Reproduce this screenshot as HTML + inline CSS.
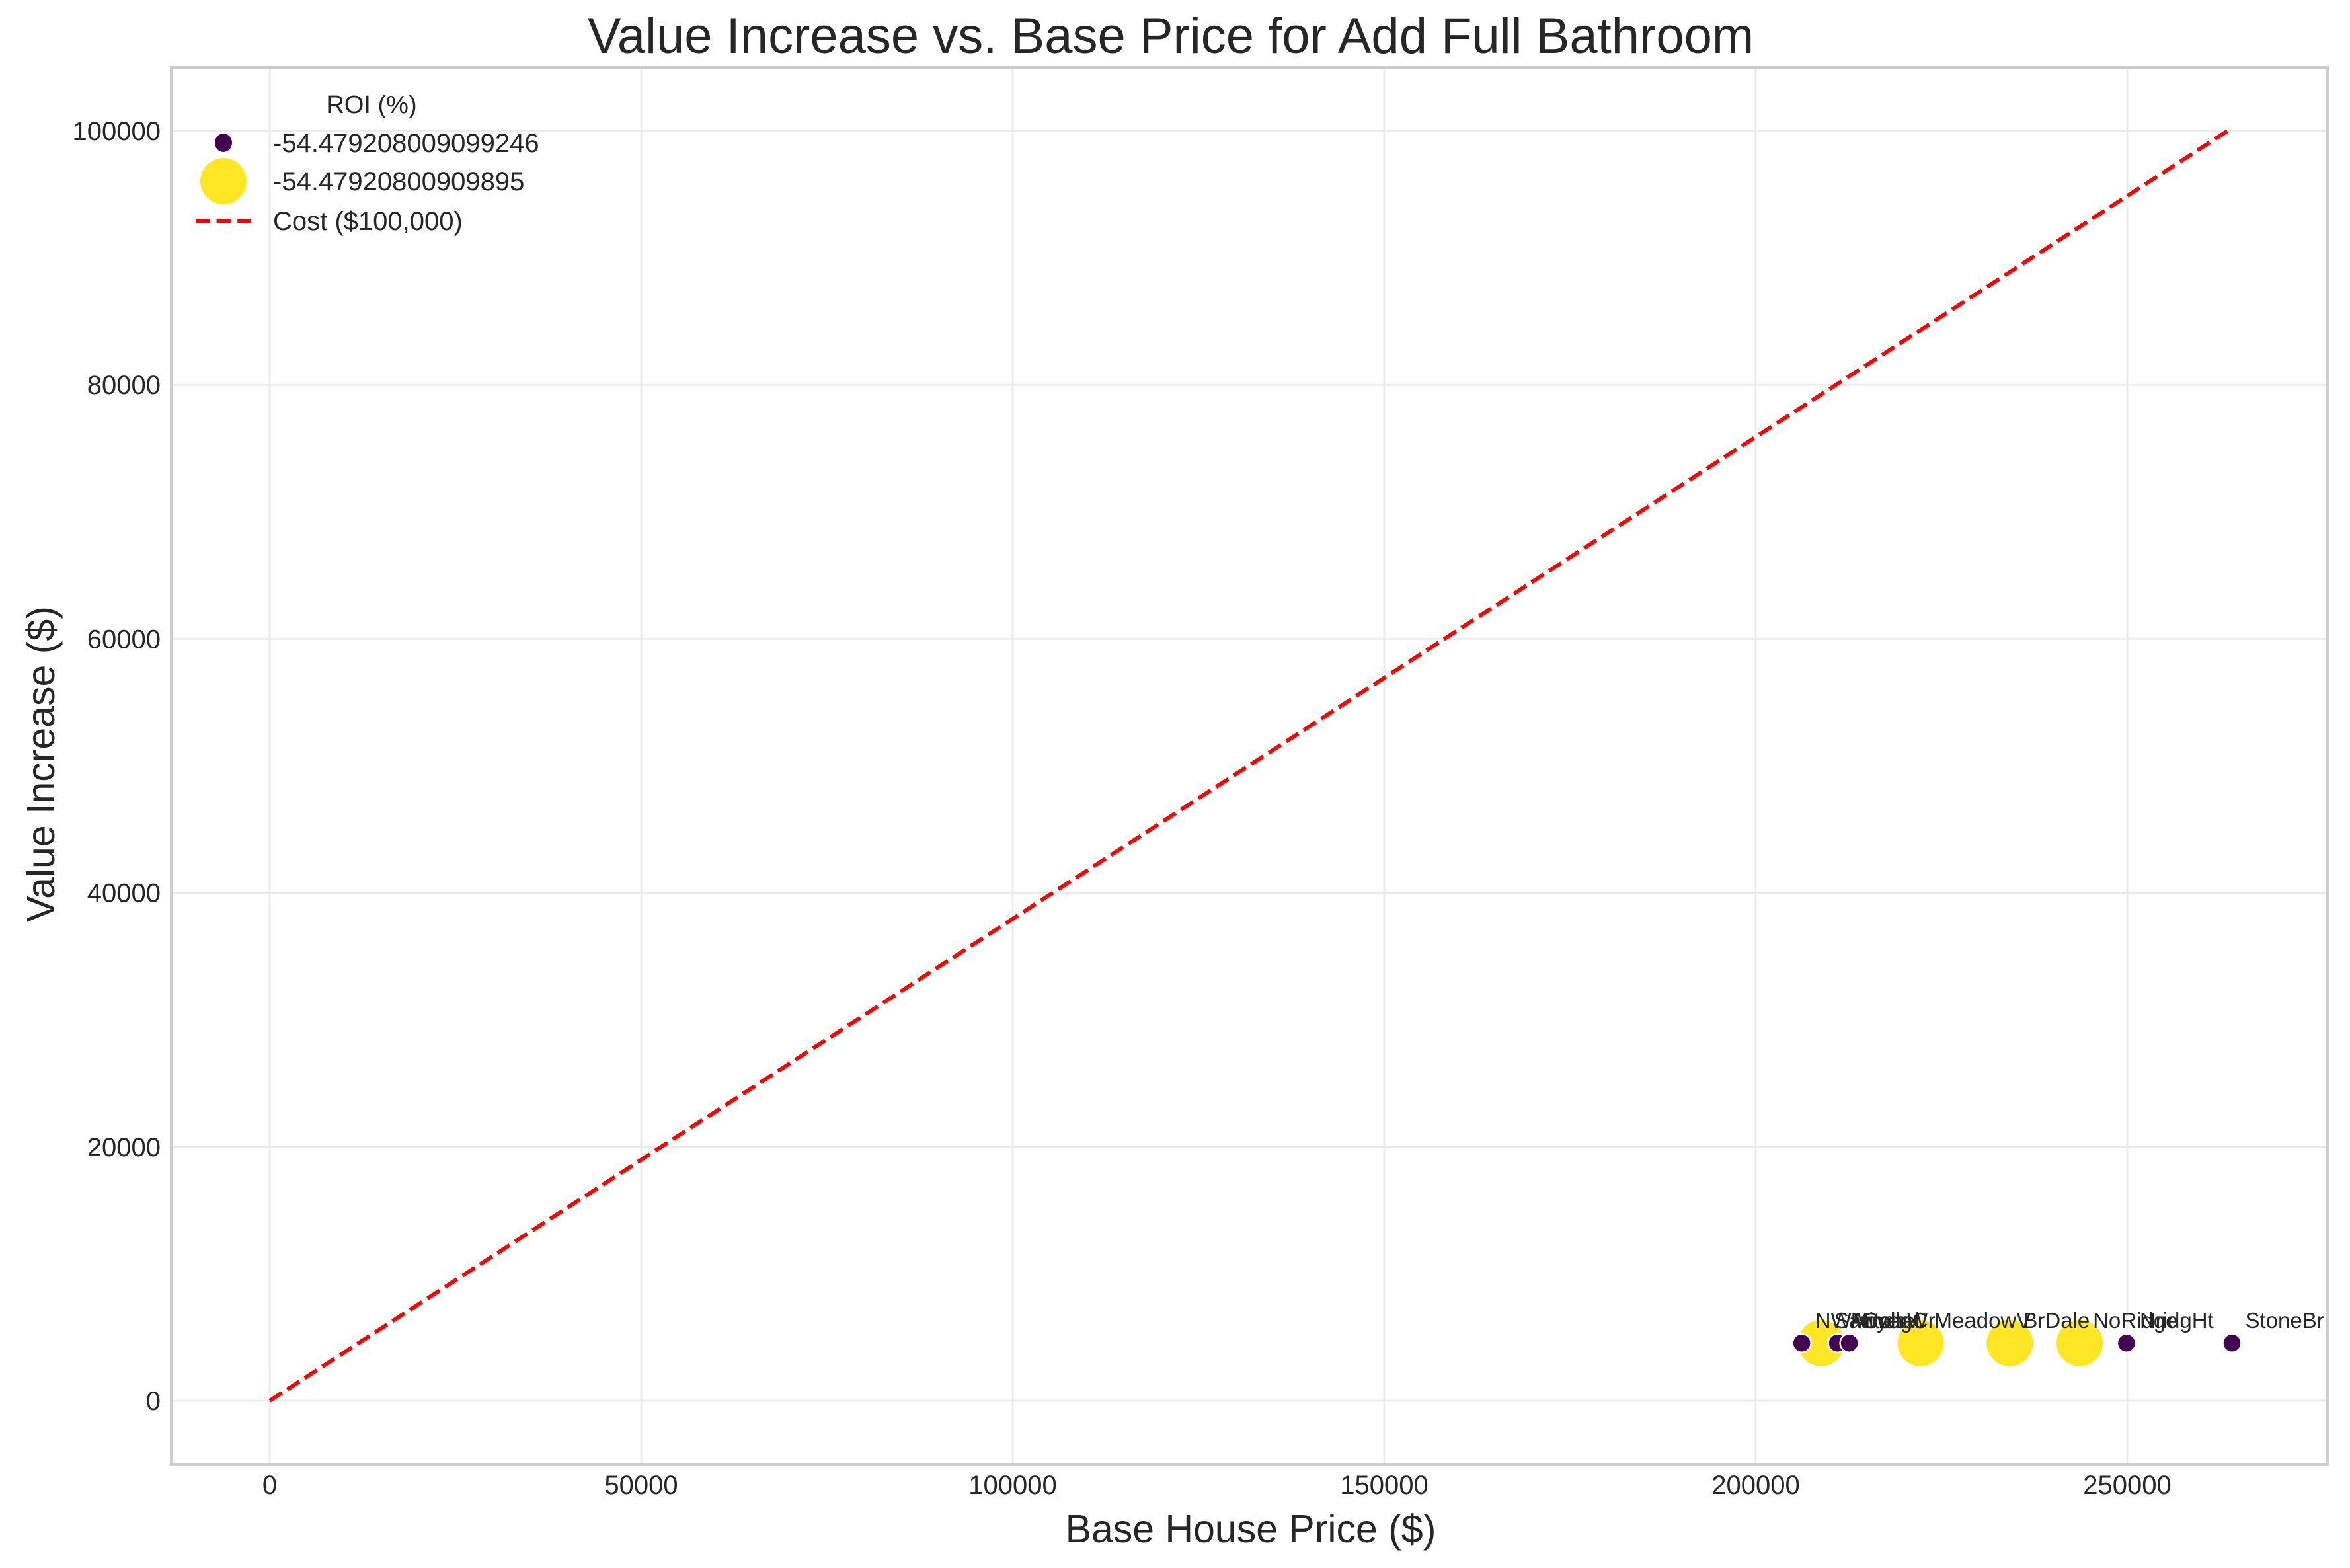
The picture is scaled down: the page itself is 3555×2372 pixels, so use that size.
<!DOCTYPE html>
<html>
<head>
<meta charset="utf-8">
<style>
html,body{margin:0;padding:0;background:#fff;}
svg{display:block;font-family:"Liberation Sans",Arial,sans-serif;}
</style>
</head>
<body>
<svg id="chart" width="3555" height="2372" viewBox="0 0 3555 2372" xmlns="http://www.w3.org/2000/svg">
<rect x="0" y="0" width="3555" height="2372" fill="#fff"/>
<g id="grid"></g>
<g id="costline"></g>
<g id="points"></g>
<g id="labels"></g>
<rect x="259" y="102" width="3262" height="2113" fill="none" stroke="#cccccc" stroke-width="4"/>
<g id="ticks"></g>
<text x="1771" y="80" font-size="76" text-anchor="middle" fill="#262626">Value Increase vs. Base Price for Add Full Bathroom</text>
<text x="1892" y="2333" font-size="59" text-anchor="middle" fill="#262626">Base House Price ($)</text>
<text x="0" y="0" font-size="59" text-anchor="middle" fill="#262626" transform="translate(82,1156) rotate(-90)">Value Increase ($)</text>
<g>
  <text x="562" y="171" font-size="38" text-anchor="middle" fill="#262626">ROI (%)</text>
  <ellipse cx="338" cy="216" rx="13" ry="14" fill="#440154"/>
  <text x="413" y="230" font-size="40" fill="#262626">-54.479208009099246</text>
  <ellipse cx="338" cy="274" rx="35" ry="35" fill="#fde725"/>
  <text x="413" y="288" font-size="40" fill="#262626">-54.47920800909895</text>
  <line x1="296" y1="334" x2="379" y2="334" stroke="#ff0000" stroke-width="6" stroke-dasharray="22,9.6"/>
  <text x="413" y="348" font-size="40" fill="#262626">Cost ($100,000)</text>
</g>
</svg>
<script>
const names = ["NWAmes","SawyerW","Mitchel","CollgCr","MeadowV","BrDale","NoRidge","NridgHt","StoneBr"];
const basePrices = [206200,208800,211000,212600,222200,234200,243600,249900,264100];
const valueIncrease = [4540,4540,4540,4540,4540,4540,4540,4540,4540];
const roiGroup = [0,1,0,0,1,1,1,0,0];
const xTicks = [0,50000,100000,150000,200000,250000];
const yTicks = [0,20000,40000,60000,80000,100000];
const costLine = [[0,0],[263500,100000]];

const NS = "http://www.w3.org/2000/svg";
const X0 = 408, XS = 562/50000;
const Y0 = 2119, YS = 1921/100000;
function xp(v){return X0 + v*XS;}
function yp(v){return Y0 - v*YS;}
function mk(tag, attrs, parent){
  const e = document.createElementNS(NS, tag);
  for (const k in attrs) e.setAttribute(k, attrs[k]);
  parent.appendChild(e);
  return e;
}
const grid = document.getElementById('grid');
const ticks = document.getElementById('ticks');
xTicks.forEach(t=>{
  const l = mk('line',{x1:xp(t),x2:xp(t),y1:102,y2:2215,stroke:'#ebebeb','stroke-width':3},grid);
  
  
  const tx = mk('text',{x:xp(t),y:2260,'font-size':40,'text-anchor':'middle',fill:'#262626'},ticks);
  tx.textContent = String(t);
  
  
});
yTicks.forEach(t=>{
  const l = mk('line',{x1:259,x2:3521,y1:yp(t),y2:yp(t),stroke:'#ebebeb','stroke-width':3},grid);
  
  
  const tx = mk('text',{x:243,y:yp(t)+14,'font-size':40,'text-anchor':'end',fill:'#262626'},ticks);
  tx.textContent = String(t);
  
  
});
const cl = mk('line',{x1:xp(costLine[0][0]),y1:yp(costLine[0][1]),x2:xp(costLine[1][0]),y2:yp(costLine[1][1]),stroke:'#ff0000','stroke-width':6,'stroke-dasharray':'22,9.6'},document.getElementById('costline'));



const pts = document.getElementById('points');
const labs = document.getElementById('labels');
[1,0].forEach(g=>{
  basePrices.forEach((p,i)=>{
    if (roiGroup[i]!==g) return;
    const big = g===1;
    const c = mk('circle',{cx:xp(p),cy:yp(valueIncrease[i]),r:big?35:14,fill:big?'#fde725':'#440154',stroke:'#fff','stroke-width':big?0:2.5},pts);
    
    
  });
});
basePrices.forEach((p,i)=>{
  const t = mk('text',{x:xp(p)+20,y:yp(valueIncrease[i])-23,'font-size':33,fill:'#262626'},labs);
  t.textContent = names[i];
  
  
});
</script>
</body>
</html>
